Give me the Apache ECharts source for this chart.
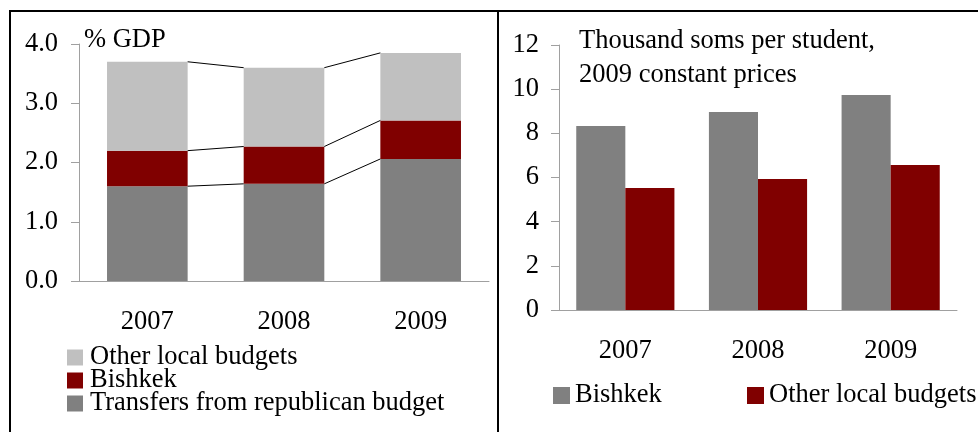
<!DOCTYPE html>
<html>
<head>
<meta charset="utf-8">
<script src="https://cdn.jsdelivr.net/npm/echarts@6/dist/echarts.min.js"></script>
<style>
html,body{margin:0;padding:0;background:#fff;}
#chart{width:978px;height:432px;}
</style>
</head>
<body>
<div id="chart"></div>
<script>
// ---- data ----
const categories = ['2007', '2008', '2009'];
// left panel: % GDP (stacked)
const transfersGDP = [1.60, 1.64, 2.06];
const bishkekGDP = [0.60, 0.63, 0.65];
const otherGDP = [1.50, 1.33, 1.14];
const leftSeriesNames = ['Transfers from republican budget', 'Bishkek', 'Other local budgets'];
const leftLegendOrder = ['Other local budgets', 'Bishkek', 'Transfers from republican budget'];
// right panel: thousand soms per student
const bishkekPerStudent = [8.33, 8.97, 9.74];
const otherPerStudent = [5.52, 5.93, 6.57];
const rightSeriesLabels = ['Bishkek', 'Other local budgets'];
// texts
const leftUnit = '% GDP';
const rightTitle = ['Thousand soms per student,', '2009 constant prices'];

// ---- style ----
const FONT = 'Liberation Serif';
const FS = 26.5;
const AXIS = '#a0a0a0';
const C_DARK = '#808080', C_RED = '#800000', C_LIGHT = '#c0c0c0';
const LEFT_BAR_RATIO = 0.59;

// cumulative levels for series lines
const leftStacks = [transfersGDP, bishkekGDP, otherGDP];
const cum = [];
let run = categories.map(() => 0);
leftStacks.forEach(s => { run = run.map((v, i) => v + s[i]); cum.push(run.slice()); });
const seriesLineData = [];
cum.forEach(level => {
  for (let i = 0; i < categories.length - 1; i++) seriesLineData.push([i, level[i], level[i + 1]]);
});

const rightNames = rightSeriesLabels.map(n => n + ' (per student)');

const chart = echarts.init(document.getElementById('chart'), null, {renderer: 'canvas'});
const txt = {fontFamily: FONT, fontSize: FS, color: '#000'};

const option = {
  backgroundColor: '#fff',
  animation: false,
  textStyle: {fontFamily: FONT},
  grid: [
    {left: 79, top: 44, width: 410, height: 237},
    {left: 559, top: 45, width: 398, height: 265}
  ],
  xAxis: [
    {type: 'category', gridIndex: 0, data: categories,
     axisLine: {lineStyle: {color: AXIS}}, axisTick: {length: 8, lineStyle: {color: AXIS}},
     axisLabel: Object.assign({margin: 28}, txt)},
    {type: 'category', gridIndex: 1, data: categories,
     axisLine: {lineStyle: {color: AXIS}}, axisTick: {length: 8, lineStyle: {color: AXIS}},
     axisLabel: Object.assign({margin: 28}, txt)}
  ],
  yAxis: [
    {type: 'value', gridIndex: 0, min: 0, max: 4, interval: 1,
     axisLine: {show: true, lineStyle: {color: AXIS}}, axisTick: {show: true, length: 8, lineStyle: {color: AXIS}},
     splitLine: {show: false},
     axisLabel: Object.assign({margin: 21, formatter: v => v.toFixed(1)}, txt)},
    {type: 'value', gridIndex: 1, min: 0, max: 12, interval: 2,
     axisLine: {show: true, lineStyle: {color: AXIS}}, axisTick: {show: true, length: 8, lineStyle: {color: AXIS}},
     splitLine: {show: false},
     axisLabel: Object.assign({margin: 20}, txt)}
  ],
  legend: [
    {orient: 'vertical', left: 67, top: 344, padding: 0, itemWidth: 16, itemHeight: 16, itemGap: -4,
     icon: 'rect', data: leftLegendOrder,
     textStyle: {fontFamily: FONT, fontSize: FS, color: '#000', padding: [0, 0, 0, 2]}},
    {orient: 'horizontal', left: 553, top: 382, padding: 0, itemWidth: 17, itemHeight: 17,
     icon: 'rect', data: [rightNames[0]],
     formatter: n => rightSeriesLabels[rightNames.indexOf(n)],
     textStyle: {fontFamily: FONT, fontSize: FS, color: '#000'}},
    {orient: 'horizontal', left: 747, top: 382, padding: 0, itemWidth: 17, itemHeight: 17,
     icon: 'rect', data: [rightNames[1]],
     formatter: n => rightSeriesLabels[rightNames.indexOf(n)],
     textStyle: {fontFamily: FONT, fontSize: FS, color: '#000'}}
  ],
  graphic: [
    {type: 'line', shape: {x1: 9, y1: 11, x2: 978, y2: 11}, style: {stroke: '#000', lineWidth: 2}},
    {type: 'line', shape: {x1: 10, y1: 10, x2: 10, y2: 432}, style: {stroke: '#000', lineWidth: 2}},
    {type: 'line', shape: {x1: 498, y1: 10, x2: 498, y2: 432}, style: {stroke: '#000', lineWidth: 2}},
    {type: 'text', left: 84, top: 27, style: {text: leftUnit, font: FS + 'px "' + FONT + '"', fill: '#000'}},
    {type: 'text', left: 579, top: 28, style: {text: rightTitle[0], font: FS + 'px "' + FONT + '"', fill: '#000'}},
    {type: 'text', left: 579, top: 62, style: {text: rightTitle[1], font: FS + 'px "' + FONT + '"', fill: '#000'}}
  ],
  series: [
    {name: leftSeriesNames[0], type: 'bar', xAxisIndex: 0, yAxisIndex: 0, stack: 'gdp',
     barWidth: (LEFT_BAR_RATIO * 100) + '%', itemStyle: {color: C_DARK}, data: transfersGDP},
    {name: leftSeriesNames[1], type: 'bar', xAxisIndex: 0, yAxisIndex: 0, stack: 'gdp',
     barWidth: (LEFT_BAR_RATIO * 100) + '%', itemStyle: {color: C_RED}, data: bishkekGDP},
    {name: leftSeriesNames[2], type: 'bar', xAxisIndex: 0, yAxisIndex: 0, stack: 'gdp',
     barWidth: (LEFT_BAR_RATIO * 100) + '%', itemStyle: {color: C_LIGHT}, data: otherGDP},
    {type: 'custom', xAxisIndex: 0, yAxisIndex: 0, silent: true, z: 5,
     data: seriesLineData,
     renderItem: function (params, api) {
       const i = api.value(0);
       const p0 = api.coord([i, api.value(1)]);
       const p1 = api.coord([i + 1, api.value(2)]);
       const half = api.size([1, 0])[0] * LEFT_BAR_RATIO / 2;
       return {type: 'line', shape: {x1: p0[0] + half, y1: p0[1], x2: p1[0] - half, y2: p1[1]},
               style: {stroke: '#000', lineWidth: 1}};
     }},
    {name: rightNames[0], type: 'bar', xAxisIndex: 1, yAxisIndex: 1,
     barWidth: '37%', barGap: '0%', itemStyle: {color: C_DARK}, data: bishkekPerStudent},
    {name: rightNames[1], type: 'bar', xAxisIndex: 1, yAxisIndex: 1,
     barWidth: '37%', barGap: '0%', itemStyle: {color: C_RED}, data: otherPerStudent}
  ]
};
chart.setOption(option);
</script>
</body>
</html>
